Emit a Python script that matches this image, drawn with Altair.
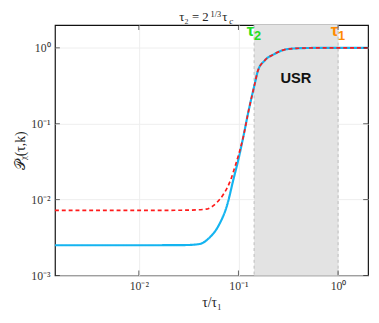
import altair as alt
import pandas as pd

# ---- data ----
tau_blue = [0.00144, 0.003, 0.01, 0.02, 0.0302, 0.0406, 0.0508, 0.0637, 0.0769, 0.0893,
            0.1, 0.112, 0.125, 0.146, 0.157, 0.183, 0.229, 0.309, 0.419, 0.6, 1.0, 2.0]
p_blue = [0.0025, 0.0025, 0.0025, 0.00251, 0.00252, 0.0026, 0.00312, 0.00463, 0.00843, 0.01875,
          0.034, 0.0676, 0.138, 0.338, 0.502, 0.678, 0.828, 0.962, 0.99, 0.998, 1.0, 1.0]

tau_red = [0.00144, 0.003, 0.01, 0.03, 0.047, 0.0592, 0.0713, 0.083, 0.0929, 0.104,
           0.112, 0.125, 0.146, 0.157, 0.183, 0.229, 0.309, 0.419, 0.6, 1.0, 2.0]
p_red = [0.0072, 0.0072, 0.0072, 0.00726, 0.00748, 0.00887, 0.01197, 0.0178, 0.0279, 0.046,
         0.0676, 0.138, 0.338, 0.502, 0.678, 0.828, 0.962, 0.99, 0.998, 1.0, 1.0]

tau2 = 0.1436
tau1 = 1.0
x_ticks = [0.01, 0.1, 1.0]
y_ticks = [0.001, 0.01, 0.1, 1.0]

W, H = 320, 256
XDOM = [0.00144, 2.0]
YDOM = [0.001, 2.0]
SERIF = "Liberation Serif"
SANS = "Liberation Sans"

curves = pd.DataFrame(
    {"tau": tau_blue + tau_red,
     "P": p_blue + p_red,
     "series": ["blue"] * len(tau_blue) + ["red"] * len(tau_red),
     "order": list(range(len(tau_blue))) + list(range(len(tau_red)))}
)

xlab = "datum.value < 0.05 ? '10⁻²' : datum.value < 0.5 ? '10⁻¹' : '10⁰'"
ylab = ("datum.value < 0.005 ? '10⁻³' : datum.value < 0.05 ? '10⁻²' : "
        "datum.value < 0.5 ? '10⁻¹' : '10⁰'")

xscale = alt.Scale(type="log", domain=XDOM, nice=False)
yscale = alt.Scale(type="log", domain=YDOM, nice=False)

xenc = alt.X("tau:Q", scale=xscale,
             axis=alt.Axis(values=x_ticks, labelExpr=xlab, title="τ/τ₁", grid=True,
                           gridColor="#eeeeee", ticks=False, domain=False,
                           labelFont=SERIF, labelFontSize=12, labelColor="#333333",
                           labelPadding=5, titleFont=SERIF, titleFontSize=14,
                           titleFontWeight="normal", titleColor="#222222", titlePadding=5))
yenc = alt.Y("P:Q", scale=yscale,
             axis=alt.Axis(values=y_ticks, labelExpr=ylab, title="𝒫ᵪ(τ,k)", grid=True,
                           gridColor="#eeeeee", ticks=False, domain=False,
                           labelFont=SERIF, labelFontSize=12, labelColor="#333333",
                           labelPadding=5, titleFont=SERIF, titleFontSize=14,
                           titleFontWeight="normal", titleColor="#222222", titlePadding=4))

base_lines = alt.Chart(curves).mark_line(interpolate="monotone").encode(
    x=xenc, y=yenc,
    color=alt.Color("series:N", scale=alt.Scale(domain=["blue", "red"],
                                                range=["#14b4f0", "#ff1a1a"]), legend=None),
    strokeDash=alt.StrokeDash("series:N", scale=alt.Scale(domain=["blue", "red"],
                                                          range=[[1, 0], [4, 3]]), legend=None),
    strokeWidth=alt.StrokeWidth("series:N", scale=alt.Scale(domain=["blue", "red"],
                                                            range=[2.2, 1.7]), legend=None),
    order="order:Q",
    detail="series:N",
)

usr_df = pd.DataFrame({"a": [tau2], "b": [tau1]})
shade = alt.Chart(usr_df).mark_rect(color="#e3e3e3").encode(
    x=alt.X("a:Q", scale=xscale), x2="b:Q", y=alt.value(0), y2=alt.value(H)
)
edges_df = pd.DataFrame({"t": [tau2, tau1]})
edges = alt.Chart(edges_df).mark_rule(color="#bbbbbb", strokeDash=[3, 3], strokeWidth=1).encode(
    x=alt.X("t:Q", scale=xscale)
)

# tau labels: big tau + subscript digit
tl_df = pd.DataFrame({"t": [tau2, tau1], "P": [1.55, 1.55], "c": ["#22dd22", "#ff8a00"],
                      "sub": ["2", "1"], "dxa": [0, 4]})
tau_big = alt.Chart(tl_df).mark_text(font=SANS, fontSize=17, fontWeight="bold",
                                     baseline="alphabetic", align="right", dy=3).encode(
    x=alt.X("t:Q", scale=xscale), y=alt.Y("P:Q", scale=yscale), text=alt.value("τ"),
    color=alt.Color("c:N", scale=None), xOffset=alt.XOffset("dxa:Q", scale=None)
)
tau_sub = alt.Chart(tl_df).mark_text(font=SANS, fontSize=13, fontWeight="bold",
                                     baseline="alphabetic", align="left", dy=7).encode(
    x=alt.X("t:Q", scale=xscale), y=alt.Y("P:Q", scale=yscale), text="sub:N",
    color=alt.Color("c:N", scale=None), xOffset=alt.XOffset("dxa:Q", scale=None)
)
usr = alt.Chart(pd.DataFrame({"t": [0.377], "P": [0.395], "txt": ["USR"]})).mark_text(
    font=SANS, fontSize=15, fontWeight="bold", color="#111111", baseline="middle").encode(
    x=alt.X("t:Q", scale=xscale), y=alt.Y("P:Q", scale=yscale), text="txt:N"
)

xt_df = pd.DataFrame({"t": x_ticks})
yt_df = pd.DataFrame({"P": y_ticks})
xt_bot = alt.Chart(xt_df).mark_tick(orient="vertical", size=5, thickness=1, color="#222").encode(
    x=alt.X("t:Q", scale=xscale), y=alt.value(H - 2.5))
xt_top = alt.Chart(xt_df).mark_tick(orient="vertical", size=5, thickness=1, color="#222").encode(
    x=alt.X("t:Q", scale=xscale), y=alt.value(2.5))
yt_l = alt.Chart(yt_df).mark_tick(orient="horizontal", size=5, thickness=1, color="#222").encode(
    y=alt.Y("P:Q", scale=yscale), x=alt.value(2.5))
yt_r = alt.Chart(yt_df).mark_tick(orient="horizontal", size=5, thickness=1, color="#222").encode(
    y=alt.Y("P:Q", scale=yscale), x=alt.value(W - 2.5))

# title  τ₂ = 2^{1/3} τ_c
def ttext(txt, x, y, size, italic=False):
    return alt.Chart(pd.DataFrame({"t": [txt]})).mark_text(
        font=SERIF, fontSize=size, align="left", baseline="alphabetic", color="#222222",
        fontStyle="italic" if italic else "normal"
    ).encode(text="t:N", x=alt.value(x), y=alt.value(y))

title_parts = [
    ttext("τ₂ = 2", 127, -4, 13),
    ttext("1/3", 159, -8.5, 8.5),
    ttext("τ", 171, -4, 13),
    ttext("c", 178, -1, 9, italic=True),
]

chart = alt.layer(shade, edges, base_lines, tau_big, tau_sub, usr, xt_bot, xt_top, yt_l, yt_r,
                  *title_parts).properties(
    width=W, height=H,
    autosize=alt.AutoSizeParams(type="none"),
    padding={"left": 48, "top": 14, "right": 3, "bottom": 37},
).configure_view(stroke="#111111", strokeWidth=1.2)

chart.save("out.html", embed_options={"renderer": "svg", "actions": False})
